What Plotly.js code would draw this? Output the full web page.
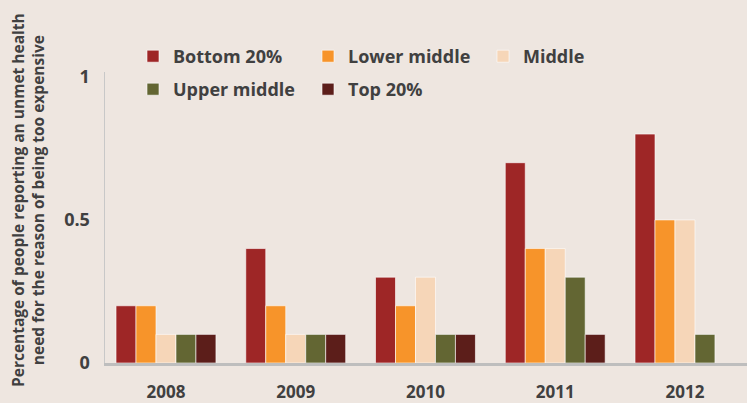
<!DOCTYPE html>
<html><head><meta charset="utf-8">
<script src="https://cdn.plot.ly/plotly-3.0.1.min.js"></script>
<style>html,body{margin:0;padding:0;background:#EEE6E0;}#chart{width:747px;height:403px;}</style>
</head><body><div id="chart"></div>
<script>
const years = ['2008','2009','2010','2011','2012'];
const seriesNames = ['Bottom 20%','Lower middle','Middle','Upper middle','Top 20%'];
const bottom20 = [0.2,0.4,0.3,0.7,0.8];
const lowerMiddle = [0.2,0.2,0.2,0.4,0.5];
const middle = [0.1,0.1,0.3,0.4,0.5];
const upperMiddle = [0.1,0.1,0.1,0.3,0.1];
const top20 = [0.1,0.1,0.1,0.1,null];
const yTitle = 'Percentage of people reporting an unmet health<br>need for the reason of being too expensive';
const colors = ['#9E2626','#F7942A','#F6D6B8','#636633','#5C1E1A'];
const values = [bottom20,lowerMiddle,middle,upperMiddle,top20];
const legends = ['legend','legend','legend','legend2','legend2'];
const traces = values.map((v,i)=>({
  type:'bar', x:years, y:v, name:seriesNames[i],
  marker:{color:colors[i], line:{color:'#FFFFFF', width:0.6}},
  legend:legends[i], hoverinfo:'skip'
}));
const font = {family:'"Open Sans", sans-serif', color:'#404040'};
const legFont = {family:'"Open Sans", sans-serif', size:18, color:'#404040', weight:'bold'};
const layout = {
  width:747, height:403,
  paper_bgcolor:'#EEE6E0', plot_bgcolor:'#EEE6E0',
  margin:{l:105, r:0, t:72, b:40, autoexpand:false},
  font:font,
  barmode:'group', bargap:0.23, bargroupgap:0,
  showlegend:true,
  xaxis:{type:'category', range:[-0.47,4.478], showgrid:false, zeroline:false,
    showline:true, linecolor:'#BEBEBE', linewidth:3, ticks:'', automargin:false,
    tickfont:{size:17, weight:'bold', color:'#404040'}, ticklabelstandoff:12},
  yaxis:{range:[0,1.017], tickvals:[0,0.5,1], ticktext:['0','0.5','1'], automargin:false,
    showgrid:false, zeroline:false, showline:true, linecolor:'#C8C8C8', linewidth:1.5,
    ticks:'', tickfont:{size:18, weight:'bold', color:'#404040'}, ticklabelstandoff:10},
  annotations:[{text:yTitle, xref:'paper', yref:'paper', x:(28-105)/642, y:(363-200)/291,
    xanchor:'center', yanchor:'middle', showarrow:false, textangle:-90,
    font:{family:'"Open Sans", sans-serif', size:15.5, weight:'bold', color:'#404040'}}],
  legend:{orientation:'h', xref:'container', yref:'container', x:133/747, y:1-38/403,
    xanchor:'left', yanchor:'top', entrywidth:130, font:legFont, bgcolor:'rgba(0,0,0,0)'},
  legend2:{orientation:'h', xref:'container', yref:'container', x:133/747, y:1-71/403,
    xanchor:'left', yanchor:'top', entrywidth:130, font:legFont, bgcolor:'rgba(0,0,0,0)'}
};
Plotly.newPlot('chart', traces, layout, {displayModeBar:false, staticPlot:true});
</script></body></html>
